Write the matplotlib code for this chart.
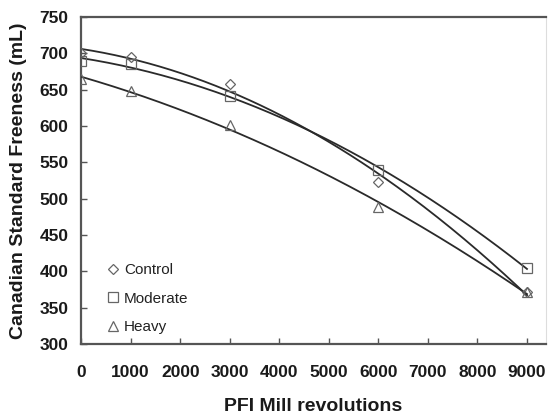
import numpy as np
import matplotlib
matplotlib.use("Agg")
import matplotlib.pyplot as plt

revolutions = [0, 1000, 3000, 6000, 9000]
control = [701, 695, 658, 523, 371]
moderate = [689, 686, 642, 539, 405]
heavy = [665, 648, 601, 489, 371]
series_names = ["Control", "Moderate", "Heavy"]
yticks = [300, 350, 400, 450, 500, 550, 600, 650, 700, 750]
xticks = [0, 1000, 2000, 3000, 4000, 5000, 6000, 7000, 8000, 9000]

plt.rcParams['font.family'] = ['Liberation Sans', 'DejaVu Sans']

fig = plt.figure(figsize=(5.48, 4.17), dpi=100)
ax = fig.add_axes([0.148, 0.175, 0.848, 0.784])

markers = ["D", "s", "^"]
msizes = [5, 6.5, 7]
xs = np.array(revolutions, dtype=float)
grid = np.linspace(0, 9000, 200)
for name, vals, m, ms in zip(series_names, [control, moderate, heavy], markers, msizes):
    coef = np.polyfit(xs, np.array(vals, dtype=float), 2)
    ax.plot(grid, np.polyval(coef, grid), color="#2a2a2a", lw=1.3, zorder=3)
    ax.plot(xs, vals, linestyle="none", marker=m, markersize=ms,
            markerfacecolor="none", markeredgecolor="#666666", markeredgewidth=0.9,
            label=name, zorder=4)

ax.set_xlim(0, 9380)
ax.set_ylim(300, 750)
ax.set_xticks(xticks)
ax.set_yticks(yticks)
ax.tick_params(axis="both", direction="in", length=4, width=1.0, color="#555555",
               labelsize=12.5, labelcolor="#1a1a1a")
ax.tick_params(axis="x", pad=15)
ax.tick_params(axis="y", pad=9)
for lbl in ax.get_xticklabels() + ax.get_yticklabels():
    lbl.set_fontweight("bold")
for sp in ["left", "bottom", "top"]:
    ax.spines[sp].set_color("#555555")
    ax.spines[sp].set_linewidth(1.6)
ax.spines["right"].set_color("#dddddd")
ax.spines["right"].set_linewidth(0.8)

ax.set_xlabel("PFI Mill revolutions", fontsize=14, fontweight="bold", color="#1a1a1a", labelpad=13)
ax.set_ylabel("Canadian Standard Freeness (mL)", fontsize=14, fontweight="bold", color="#1a1a1a", labelpad=9)

leg = ax.legend(loc="lower left", bbox_to_anchor=(0.03, -0.012), frameon=False, fontsize=11,
                handlelength=0.6, handletextpad=0.4, labelspacing=0.95, labelcolor="#222222")

fig.savefig("out.png", dpi=100, facecolor="white")
